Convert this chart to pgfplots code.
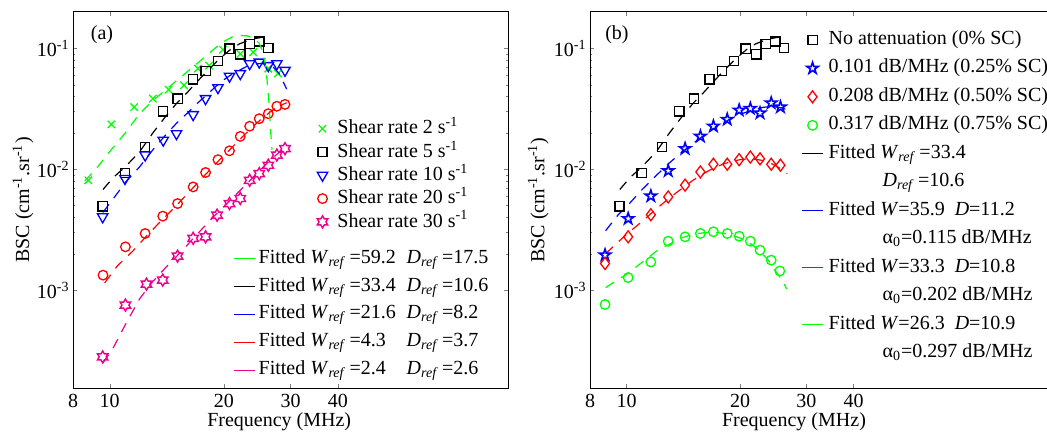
\documentclass[border=0pt]{standalone}
\usepackage{fontspec}
\setmainfont{Liberation Serif}
\usepackage{pgfplots}
\pgfplotsset{compat=1.18}
\usetikzlibrary{plotmarks}

% outline pentagram and hexagram marks (MATLAB 'p' and 'h')
\pgfdeclareplotmark{pent}{%
  \pgfpathmoveto{\pgfqpointpolar{90}{\pgfplotmarksize}}%
  \pgfpathlineto{\pgfqpointpolar{126}{0.382\pgfplotmarksize}}%
  \pgfpathlineto{\pgfqpointpolar{162}{\pgfplotmarksize}}%
  \pgfpathlineto{\pgfqpointpolar{198}{0.382\pgfplotmarksize}}%
  \pgfpathlineto{\pgfqpointpolar{234}{\pgfplotmarksize}}%
  \pgfpathlineto{\pgfqpointpolar{270}{0.382\pgfplotmarksize}}%
  \pgfpathlineto{\pgfqpointpolar{306}{\pgfplotmarksize}}%
  \pgfpathlineto{\pgfqpointpolar{342}{0.382\pgfplotmarksize}}%
  \pgfpathlineto{\pgfqpointpolar{18}{\pgfplotmarksize}}%
  \pgfpathlineto{\pgfqpointpolar{54}{0.382\pgfplotmarksize}}%
  \pgfpathclose\pgfusepathqstroke}
\pgfdeclareplotmark{hexa}{%
  \pgfpathmoveto{\pgfqpointpolar{90}{\pgfplotmarksize}}%
  \pgfpathlineto{\pgfqpointpolar{120}{0.577\pgfplotmarksize}}%
  \pgfpathlineto{\pgfqpointpolar{150}{\pgfplotmarksize}}%
  \pgfpathlineto{\pgfqpointpolar{180}{0.577\pgfplotmarksize}}%
  \pgfpathlineto{\pgfqpointpolar{210}{\pgfplotmarksize}}%
  \pgfpathlineto{\pgfqpointpolar{240}{0.577\pgfplotmarksize}}%
  \pgfpathlineto{\pgfqpointpolar{270}{\pgfplotmarksize}}%
  \pgfpathlineto{\pgfqpointpolar{300}{0.577\pgfplotmarksize}}%
  \pgfpathlineto{\pgfqpointpolar{330}{\pgfplotmarksize}}%
  \pgfpathlineto{\pgfqpointpolar{0}{0.577\pgfplotmarksize}}%
  \pgfpathlineto{\pgfqpointpolar{30}{\pgfplotmarksize}}%
  \pgfpathlineto{\pgfqpointpolar{60}{0.577\pgfplotmarksize}}%
  \pgfpathclose\pgfusepathqstroke}

\pgfplotsset{
  legend image code/.code={\path (0pt,0pt) (10.5pt,0pt);
    \draw[mark repeat=2,mark phase=2,#1]
      plot coordinates {(0pt,0pt) (5.25pt,0pt) (10.5pt,0pt)};},
  every axis/.append style={
    xmode=log, ymode=log, scale only axis, height=188pt,
    xmin=8, ymin=1.549e-4, ymax=0.2,
    xtick={8,10,20,30,40}, xticklabels={8,10,20,30,40}, minor xtick={},
    ytick={1e-3,1e-2,1e-1},
    yticklabels={10\textsuperscript{-3},10\textsuperscript{-2},10\textsuperscript{-1}},
    tick align=inside, major tick length=2pt, minor tick length=1.2pt,
    axis line style={line width=0.5pt},
    yticklabel style={inner xsep=1.5pt},
    xticklabel style={inner ysep=3pt},
    legend cell align=left,
  },
}

\begin{document}
\begin{tikzpicture}

% ---------------- (a) measured BSC ----------------
\begin{axis}[at={(36.5pt,25pt)}, anchor=south west, width=217.5pt, xmax=112.4,
  xlabel={Frequency (MHz)}, ylabel={BSC (cm\textsuperscript{-1}.sr\textsuperscript{-1})},
  xlabel style={at={(axis description cs:0.474,0)}, anchor=north, inner sep=0pt, yshift=-12pt},
  ylabel style={at={(axis description cs:-0.115,0.5)}, anchor=center},
  legend style={at={(rel axis cs:0.5476,0.7165)}, anchor=north west, draw=none, fill=none,
    inner sep=0pt, row sep=1.95pt,
    nodes={inner sep=0pt, text height=7.5pt, text depth=2.2pt},
    /tikz/every odd column/.append style={column sep=2pt}},
]
\addplot[only marks, green, mark=x, mark size=2.6pt, mark options={line width=0.65pt}] coordinates {
 (8.78,0.0081) (10.1,0.0235) (11.6,0.0327) (13.0,0.0384) (14.3,0.0456) (15.7,0.0495)
 (17.1,0.068) (18.3,0.072) (19.9,0.0975) (22.1,0.090) (23.9,0.093) (26.2,0.068) (27.8,0.062)};
\addlegendentry{Shear rate 2 s\textsuperscript{-1}}
\addplot[only marks, black, mark=square, mark size=2.3pt, mark options={line width=0.65pt}] coordinates {
 (9.58,0.00494) (10.97,0.0093) (12.4,0.0153) (13.8,0.0301) (15.1,0.0384) (16.6,0.0554)
 (17.9,0.0649) (19.3,0.0785) (20.7,0.0994) (22.1,0.0892) (23.4,0.109) (24.8,0.114) (26.2,0.1005)};
\addlegendentry{Shear rate 5 s\textsuperscript{-1}}
\addplot[only marks, blue, mark=triangle, mark size=3pt, mark options={line width=0.65pt, rotate=180}] coordinates {
 (9.58,0.00404) (10.97,0.00838) (12.4,0.0131) (13.84,0.0174) (15.0,0.0197) (16.6,0.0283)
 (17.9,0.0384) (19.3,0.0473) (20.7,0.0588) (22.1,0.0618) (23.4,0.0747) (24.8,0.077)
 (26.2,0.072) (27.6,0.0747) (29.0,0.0658)};
\addlegendentry{Shear rate 10 s\textsuperscript{-1}}
\addplot[only marks, red, mark=o, mark size=2.4pt, mark options={line width=0.65pt}] coordinates {
 (9.6,0.00133) (11.0,0.00228) (12.4,0.00294) (13.8,0.00409) (15.1,0.0052) (16.6,0.00714)
 (17.9,0.0094) (19.3,0.0120) (20.7,0.0142) (22.1,0.0187) (23.4,0.0227) (24.8,0.0262)
 (26.2,0.0288) (27.6,0.0332) (29.0,0.0344)};
\addlegendentry{Shear rate 20 s\textsuperscript{-1}}
\addplot[only marks, magenta, mark=hexa, mark size=3pt, mark options={line width=0.7pt}] coordinates {
 (9.58,0.00028) (11.0,0.000752) (12.5,0.00112) (13.8,0.00121) (15.1,0.00191) (16.6,0.00268)
 (17.9,0.00276) (19.2,0.00417) (20.7,0.0052) (22.1,0.00573) (23.4,0.0081) (24.8,0.0092)
 (26.2,0.0108) (27.6,0.0131) (29.0,0.0148)};
\addlegendentry{Shear rate 30 s\textsuperscript{-1}}
\node at (axis description cs:0.0667,0.939) {(a)};
\end{axis}

% ---------------- (a) fitted curves (overlay, own legend) ----------------
\begin{axis}[hide axis, at={(36.5pt,25pt)}, anchor=south west, width=217.5pt, xmax=112.4,
  legend image post style={solid},
  legend style={at={(rel axis cs:0.368,0.373)}, anchor=north west, draw=none, fill=none,
    inner sep=0pt, row sep=3.45pt,
    nodes={inner sep=0pt, text height=7.5pt, text depth=3pt},
    /tikz/every odd column/.append style={column sep=1.5pt}},
  every axis plot/.append style={line width=0.6pt, dash pattern=on 5pt off 4pt, no marks},
]
\addplot[green] coordinates {
 (8.6,0.0080) (9.3,0.0105) (10,0.014) (11,0.020) (12,0.029) (13,0.037) (14,0.045) (15,0.054)
 (16,0.064) (17,0.075) (18,0.087) (19,0.101) (20,0.114) (21,0.124) (22,0.128) (23,0.127)
 (24,0.122) (24.8,0.11) (25.3,0.095) (25.7,0.075) (26.0,0.055) (26.3,0.036) (26.6,0.02) (26.8,0.0145)};
\addlegendentry{\makebox[74pt][l]{Fitted \textit{W}\textsubscript{\textit{ref}}\,=59.2}\textit{D}\textsubscript{\textit{ref}}\,=17.5}
\addplot[black] coordinates {
 (9.6,0.0068) (10.2,0.0085) (11,0.0105) (12,0.014) (13,0.02) (14,0.027) (15,0.035) (16,0.043)
 (17,0.053) (18,0.064) (19,0.076) (20,0.088) (21,0.100) (22,0.109) (23,0.115) (24,0.12)
 (25,0.123) (26,0.124)};
\addlegendentry{\makebox[74pt][l]{Fitted \textit{W}\textsubscript{\textit{ref}}\,=33.4}\textit{D}\textsubscript{\textit{ref}}\,=10.6}
\addplot[blue] coordinates {
 (9.6,0.0044) (10.5,0.0064) (11,0.0078) (12,0.0105) (13,0.0145) (14,0.019) (15,0.024) (16,0.029)
 (17,0.035) (18,0.041) (19,0.048) (20,0.055) (21,0.061) (22,0.066) (23,0.071) (24,0.074)
 (25,0.075) (26,0.074) (27,0.07) (28,0.062) (29.3,0.046)};
\addlegendentry{\makebox[74pt][l]{Fitted \textit{W}\textsubscript{\textit{ref}}\,=21.6}\textit{D}\textsubscript{\textit{ref}}\,=8.2}
\addplot[red] coordinates {
 (9.7,0.00115) (10.5,0.0016) (11.5,0.0021) (12.5,0.0028) (13.5,0.0036) (14.5,0.0045) (15.5,0.0056)
 (16.5,0.0069) (17.5,0.0084) (18.5,0.0101) (19.5,0.012) (20.5,0.014) (21.5,0.0163) (22.5,0.0188)
 (23.5,0.0215) (24.5,0.0243) (25.5,0.027) (26.5,0.0298) (27.5,0.0322) (28.5,0.0342) (29.3,0.0355)};
\addlegendentry{\makebox[74pt][l]{Fitted \textit{W}\textsubscript{\textit{ref}}\,=4.3}\textit{D}\textsubscript{\textit{ref}}\,=3.7}
\addplot[magenta] coordinates {
 (9.6,0.00025) (10.2,0.00033) (11,0.00052) (12,0.00085) (13,0.00118) (14,0.00152) (15,0.0019)
 (16,0.00235) (17,0.0029) (18,0.0035) (19,0.0042) (20,0.0049) (21,0.0057) (22,0.0066)
 (23,0.0076) (24,0.0087) (25,0.0099) (26,0.0112) (27,0.0125) (28,0.0138) (29.3,0.0152)};
\addlegendentry{\makebox[74pt][l]{Fitted \textit{W}\textsubscript{\textit{ref}}\,=2.4}\textit{D}\textsubscript{\textit{ref}}\,=2.6}
\end{axis}

% ---------------- (b) attenuation ----------------
\begin{axis}[at={(295pt,25pt)}, anchor=south west, width=235pt, xmax=141.2,
  xlabel={Frequency (MHz)}, ylabel={BSC (cm\textsuperscript{-1}.sr\textsuperscript{-1})},
  xlabel style={at={(axis description cs:0.434,0)}, anchor=north, inner sep=0pt, yshift=-12pt},
  ylabel style={at={(axis description cs:-0.11,0.5)}, anchor=center},
  legend image post style={solid},
  legend style={at={(rel axis cs:0.449,0.955)}, anchor=north west, draw=none, fill=none,
    inner sep=0pt, row sep=3.75pt,
    nodes={inner sep=0pt, text height=7.5pt, text depth=3pt},
    /tikz/every odd column/.append style={column sep=2.5pt}},
]
\addplot[only marks, black, mark=square, mark size=2.3pt, mark options={line width=0.65pt}] coordinates {
 (9.58,0.00494) (10.97,0.0093) (12.4,0.0153) (13.8,0.0301) (15.1,0.0384) (16.6,0.0554)
 (17.9,0.0649) (19.3,0.0785) (20.7,0.0994) (22.1,0.0892) (23.4,0.109) (24.8,0.114) (26.2,0.1005)};
\addlegendentry{No attenuation (0\% SC)}
\addplot[only marks, blue, mark=pent, mark size=3pt, mark options={line width=0.8pt}] coordinates {
 (8.77,0.00195) (10.1,0.0039) (11.6,0.0060) (12.9,0.0097) (14.3,0.0148) (15.7,0.0187)
 (17.0,0.0227) (18.5,0.0258) (19.9,0.0308) (21.3,0.0318) (22.6,0.0292) (24.2,0.0353) (25.6,0.0327)};
\addlegendentry{0.101 dB/MHz (0.25\% SC)}
\addplot[only marks, red, mark=diamond, mark size=3pt, mark options={line width=0.65pt}] coordinates {
 (8.77,0.00166) (10.1,0.00276) (11.6,0.0042) (12.9,0.0059) (14.3,0.00738) (15.7,0.0095)
 (17.0,0.0110) (18.5,0.0110) (19.9,0.0120) (21.3,0.0126) (22.6,0.0122) (24.2,0.0110) (25.6,0.0108)};
\addlegendentry{0.208 dB/MHz (0.50\% SC)}
\addplot[only marks, green, mark=o, mark size=2.4pt, mark options={line width=0.65pt}] coordinates {
 (8.77,0.00076) (10.1,0.00127) (11.6,0.00171) (12.9,0.00254) (14.3,0.00276) (15.7,0.00294)
 (17.0,0.00304) (18.5,0.00294) (19.9,0.00279) (21.3,0.00254) (22.6,0.00214) (24.2,0.00177) (25.5,0.00144)};
\addlegendentry{0.317 dB/MHz (0.75\% SC)}
\addplot[black, line width=0.6pt, dash pattern=on 5pt off 4pt, no marks] coordinates {
 (9.6,0.0068) (10.2,0.0085) (11,0.0105) (12,0.014) (13,0.02) (14,0.027) (15,0.035) (16,0.043)
 (17,0.053) (18,0.064) (19,0.076) (20,0.088) (21,0.100) (22,0.109) (23,0.115) (24,0.12)
 (25,0.123) (26,0.124)};
\addlegendentry{Fitted \textit{W}\textsubscript{\textit{ref}}\,=33.4}
\addlegendimage{empty legend}
\addlegendentry{\hspace*{27pt}\textit{D}\textsubscript{\textit{ref}}\,=10.6}
\addplot[blue, line width=0.6pt, dash pattern=on 5pt off 4pt, no marks] coordinates {
 (8.8,0.0031) (9.5,0.0042) (10,0.0049) (11,0.0068) (12,0.0089) (13,0.0113) (14,0.0138) (15,0.0163)
 (16,0.019) (17,0.0215) (18,0.024) (19,0.0265) (20,0.0285) (21,0.030) (22,0.0315) (23,0.0325)
 (24,0.033) (25,0.0328) (26,0.032) (26.6,0.031)};
\addlegendentry{Fitted \textit{W}=35.9\enspace\textit{D}=11.2}
\addlegendimage{empty legend}
\addlegendentry{\hspace*{27pt}α\textsubscript{0}=0.115 dB/MHz}
\addplot[red, line width=0.6pt, dash pattern=on 5pt off 4pt, no marks] coordinates {
 (8.8,0.0020) (10,0.0029) (11,0.0037) (12,0.0047) (13,0.0058) (14,0.0069) (15,0.0081) (16,0.0092)
 (17,0.0102) (18,0.0110) (19,0.0116) (20,0.0120) (21,0.0122) (22,0.0121) (23,0.0118) (24,0.0113)
 (25,0.0106) (26,0.0098) (26.7,0.0092)};
\addlegendentry{Fitted \textit{W}=33.3\enspace\textit{D}=10.8}
\addlegendimage{empty legend}
\addlegendentry{\hspace*{27pt}α\textsubscript{0}=0.202 dB/MHz}
\addplot[green, line width=0.6pt, dash pattern=on 5pt off 4pt, no marks] coordinates {
 (8.8,0.00105) (10,0.00135) (11,0.0017) (12,0.0021) (13,0.0024) (14,0.0027) (15,0.0029) (16,0.00298)
 (17,0.0030) (18,0.00296) (19,0.00285) (20,0.0027) (21,0.0025) (22,0.00225) (23,0.00198) (24,0.0017)
 (25,0.0014) (26,0.00118) (26.6,0.00102)};
\addlegendentry{Fitted \textit{W}=26.3\enspace\textit{D}=10.9}
\addlegendimage{empty legend}
\addlegendentry{\hspace*{27pt}α\textsubscript{0}=0.297 dB/MHz}
\node at (axis description cs:0.0574,0.939) {(b)};
\end{axis}

\pgfresetboundingbox
\path[use as bounding box] (0pt,0pt) rectangle (523.5pt,219pt);
\end{tikzpicture}
\end{document}
